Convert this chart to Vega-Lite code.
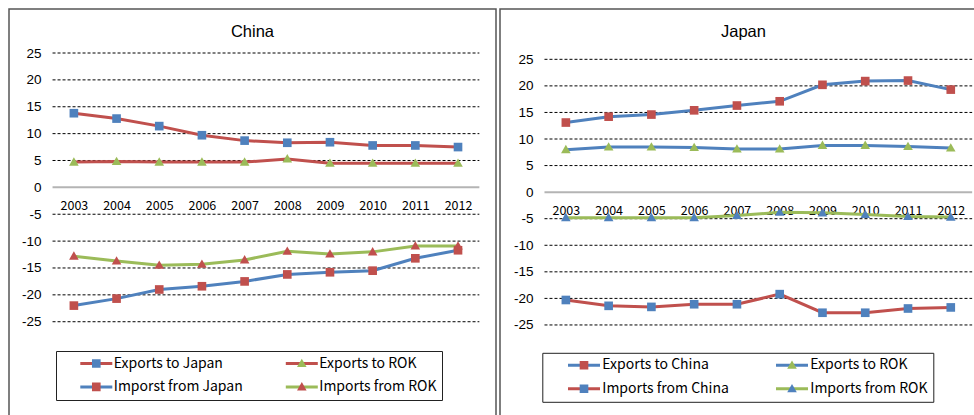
{
  "$schema": "https://vega.github.io/schema/vega-lite/v6.json",
  "padding": {"left": 8, "top": 8, "right": 0, "bottom": 0},
  "background": "white",
  "datasets": {
    "china": [
      {"year": 2003, "series": "Exports to Japan", "value": 13.8},
      {"year": 2004, "series": "Exports to Japan", "value": 12.8},
      {"year": 2005, "series": "Exports to Japan", "value": 11.4},
      {"year": 2006, "series": "Exports to Japan", "value": 9.7},
      {"year": 2007, "series": "Exports to Japan", "value": 8.7},
      {"year": 2008, "series": "Exports to Japan", "value": 8.3},
      {"year": 2009, "series": "Exports to Japan", "value": 8.4},
      {"year": 2010, "series": "Exports to Japan", "value": 7.8},
      {"year": 2011, "series": "Exports to Japan", "value": 7.8},
      {"year": 2012, "series": "Exports to Japan", "value": 7.5},
      {"year": 2003, "series": "Exports to ROK", "value": 4.7},
      {"year": 2004, "series": "Exports to ROK", "value": 4.8},
      {"year": 2005, "series": "Exports to ROK", "value": 4.7},
      {"year": 2006, "series": "Exports to ROK", "value": 4.7},
      {"year": 2007, "series": "Exports to ROK", "value": 4.7},
      {"year": 2008, "series": "Exports to ROK", "value": 5.3},
      {"year": 2009, "series": "Exports to ROK", "value": 4.5},
      {"year": 2010, "series": "Exports to ROK", "value": 4.5},
      {"year": 2011, "series": "Exports to ROK", "value": 4.5},
      {"year": 2012, "series": "Exports to ROK", "value": 4.5},
      {"year": 2003, "series": "Imporst from Japan", "value": -22.0},
      {"year": 2004, "series": "Imporst from Japan", "value": -20.7},
      {"year": 2005, "series": "Imporst from Japan", "value": -19.0},
      {"year": 2006, "series": "Imporst from Japan", "value": -18.4},
      {"year": 2007, "series": "Imporst from Japan", "value": -17.5},
      {"year": 2008, "series": "Imporst from Japan", "value": -16.2},
      {"year": 2009, "series": "Imporst from Japan", "value": -15.8},
      {"year": 2010, "series": "Imporst from Japan", "value": -15.5},
      {"year": 2011, "series": "Imporst from Japan", "value": -13.2},
      {"year": 2012, "series": "Imporst from Japan", "value": -11.7},
      {"year": 2003, "series": "Imports from ROK", "value": -12.8},
      {"year": 2004, "series": "Imports from ROK", "value": -13.7},
      {"year": 2005, "series": "Imports from ROK", "value": -14.5},
      {"year": 2006, "series": "Imports from ROK", "value": -14.3},
      {"year": 2007, "series": "Imports from ROK", "value": -13.5},
      {"year": 2008, "series": "Imports from ROK", "value": -11.9},
      {"year": 2009, "series": "Imports from ROK", "value": -12.4},
      {"year": 2010, "series": "Imports from ROK", "value": -12.0},
      {"year": 2011, "series": "Imports from ROK", "value": -10.9},
      {"year": 2012, "series": "Imports from ROK", "value": -10.9}
    ],
    "japan": [
      {"year": 2003, "series": "Exports to China", "value": 13.1},
      {"year": 2004, "series": "Exports to China", "value": 14.2},
      {"year": 2005, "series": "Exports to China", "value": 14.6},
      {"year": 2006, "series": "Exports to China", "value": 15.4},
      {"year": 2007, "series": "Exports to China", "value": 16.3},
      {"year": 2008, "series": "Exports to China", "value": 17.1},
      {"year": 2009, "series": "Exports to China", "value": 20.2},
      {"year": 2010, "series": "Exports to China", "value": 20.9},
      {"year": 2011, "series": "Exports to China", "value": 21.0},
      {"year": 2012, "series": "Exports to China", "value": 19.3},
      {"year": 2003, "series": "Exports to ROK", "value": 8.0},
      {"year": 2004, "series": "Exports to ROK", "value": 8.5},
      {"year": 2005, "series": "Exports to ROK", "value": 8.5},
      {"year": 2006, "series": "Exports to ROK", "value": 8.4},
      {"year": 2007, "series": "Exports to ROK", "value": 8.1},
      {"year": 2008, "series": "Exports to ROK", "value": 8.1},
      {"year": 2009, "series": "Exports to ROK", "value": 8.8},
      {"year": 2010, "series": "Exports to ROK", "value": 8.8},
      {"year": 2011, "series": "Exports to ROK", "value": 8.6},
      {"year": 2012, "series": "Exports to ROK", "value": 8.3},
      {"year": 2003, "series": "Imports from China", "value": -20.3},
      {"year": 2004, "series": "Imports from China", "value": -21.4},
      {"year": 2005, "series": "Imports from China", "value": -21.6},
      {"year": 2006, "series": "Imports from China", "value": -21.1},
      {"year": 2007, "series": "Imports from China", "value": -21.1},
      {"year": 2008, "series": "Imports from China", "value": -19.2},
      {"year": 2009, "series": "Imports from China", "value": -22.7},
      {"year": 2010, "series": "Imports from China", "value": -22.7},
      {"year": 2011, "series": "Imports from China", "value": -21.9},
      {"year": 2012, "series": "Imports from China", "value": -21.7},
      {"year": 2003, "series": "Imports from ROK", "value": -4.8},
      {"year": 2004, "series": "Imports from ROK", "value": -4.8},
      {"year": 2005, "series": "Imports from ROK", "value": -4.8},
      {"year": 2006, "series": "Imports from ROK", "value": -4.8},
      {"year": 2007, "series": "Imports from ROK", "value": -4.4},
      {"year": 2008, "series": "Imports from ROK", "value": -3.8},
      {"year": 2009, "series": "Imports from ROK", "value": -3.9},
      {"year": 2010, "series": "Imports from ROK", "value": -4.2},
      {"year": 2011, "series": "Imports from ROK", "value": -4.6},
      {"year": 2012, "series": "Imports from ROK", "value": -4.7}
    ],
    "grid": [
      {"v": -25}, {"v": -20}, {"v": -15}, {"v": -10}, {"v": -5},
      {"v": 5}, {"v": 10}, {"v": 15}, {"v": 20}, {"v": 25}
    ],
    "zero": [{"v": 0}]
  },
  "spacing": 2,
  "resolve": {
    "scale": {"x": "independent", "y": "independent", "stroke": "independent", "fill": "independent", "shape": "independent"},
    "legend": {"stroke": "independent", "fill": "independent", "shape": "independent"},
    "axis": {"x": "independent", "y": "independent"}
  },
  "hconcat": [
    {
      "width": 487,
      "height": 410,
      "title": {"text": "China", "offset": -39, "baseline": "middle", "anchor": "middle", "font": "Liberation Sans", "fontSize": 16.5, "fontWeight": "normal", "color": "#000"},
      "layer": [
        {
          "data": {"name": "grid"},
          "mark": {"type": "rule", "stroke": "#000", "strokeWidth": 1, "strokeDash": [3, 2]},
          "encoding": {
            "y": {"field": "v", "type": "quantitative", "scale": {"domain": [-43.1, 33.19], "nice": false, "zero": false},
              "axis": {"values": [-25, -20, -15, -10, -5, 0, 5, 10, 15, 20, 25], "offset": -32, "domain": false, "ticks": false, "grid": false, "labelPadding": 0, "labelFont": "Liberation Sans", "labelFontSize": 13.5, "labelColor": "#000", "labelExpr": "toString(datum.value)", "title": null}},
            "x": {"datum": 2002.5, "type": "quantitative", "scale": {"domain": [2001.48, 2012.89], "nice": false, "zero": false},
              "axis": {"values": [2003, 2004, 2005, 2006, 2007, 2008, 2009, 2010, 2011, 2012], "format": "d", "offset": -232, "domain": false, "ticks": false, "grid": false, "labelPadding": 18, "labelBaseline": "middle", "labelOverlap": false, "labelFont": "Noto Sans CJK TC", "labelFontSize": 12.5, "labelColor": "#000", "title": null}},
            "x2": {"datum": 2012.5}
          }
        },
        {
          "data": {"name": "zero"},
          "mark": {"type": "rule", "stroke": "#b4b4b4", "strokeWidth": 2},
          "encoding": {
            "y": {"field": "v", "type": "quantitative"},
            "x": {"datum": 2002.5, "type": "quantitative"},
            "x2": {"datum": 2012.5}
          }
        },
        {
          "data": {"name": "china"},
          "mark": {"type": "line", "strokeWidth": 3},
          "encoding": {
            "x": {"field": "year", "type": "quantitative"},
            "y": {"field": "value", "type": "quantitative"},
            "stroke": {"field": "series", "type": "nominal",
              "scale": {"domain": ["Exports to Japan", "Exports to ROK", "Imporst from Japan", "Imports from ROK"], "range": ["#C0504D", "#C0504D", "#4F81BD", "#9BBB59"]},
              "legend": {"orient": "none", "legendX": 47, "legendY": 342, "direction": "horizontal", "columns": 2, "gridAlign": "all", "title": null, "padding": 5, "symbolType": "stroke", "symbolSize": 1024, "symbolStrokeWidth": 3, "symbolOffset": 17.8, "labelOffset": 0, "columnPadding": 23.5, "rowPadding": 8.4, "clipHeight": 15, "labelFont": "Noto Sans CJK TC", "labelFontSize": 14, "labelColor": "#000", "strokeColor": "#222", "fillColor": "white"}}
          }
        },
        {
          "data": {"name": "china"},
          "mark": {"type": "point", "filled": true, "size": 1024, "opacity": 1},
          "encoding": {
            "x": {"field": "year", "type": "quantitative"},
            "y": {"field": "value", "type": "quantitative"},
            "fill": {"field": "series", "type": "nominal",
              "scale": {"range": ["#4F81BD", "#9BBB59", "#C0504D", "#C0504D"]},
              "legend": {"orient": "none", "legendX": 47, "legendY": 342, "direction": "horizontal", "columns": 2, "gridAlign": "all", "title": null, "padding": 5, "symbolSize": 1024, "symbolStrokeWidth": 3, "symbolStrokeColor": "transparent", "symbolOffset": 17.8, "labelOffset": 0, "columnPadding": 23.5, "rowPadding": 8.4, "clipHeight": 15, "labelFont": "Noto Sans CJK TC", "labelFontSize": 14, "labelOpacity": 0}},
            "shape": {"field": "series", "type": "nominal",
              "scale": {"range": ["M-0.27,-0.27H0.27V0.27H-0.27Z", "M0,-0.3L0.3,0.22L-0.3,0.22Z", "M-0.27,-0.27H0.27V0.27H-0.27Z", "M0,-0.3L0.3,0.22L-0.3,0.22Z"]},
              "legend": {"orient": "none", "legendX": 47, "legendY": 342, "direction": "horizontal", "columns": 2, "gridAlign": "all", "title": null, "padding": 5, "symbolSize": 1024, "symbolStrokeWidth": 3, "symbolStrokeColor": "transparent", "symbolOffset": 17.8, "labelOffset": 0, "columnPadding": 23.5, "rowPadding": 8.4, "clipHeight": 15, "labelFont": "Noto Sans CJK TC", "labelFontSize": 14, "labelOpacity": 0}}
          }
        }
      ]
    },
    {
      "width": 479,
      "height": 410,
      "title": {"text": "Japan", "offset": -39, "baseline": "middle", "anchor": "middle", "dx": 4, "font": "Liberation Sans", "fontSize": 16.5, "fontWeight": "normal", "color": "#000"},
      "layer": [
        {
          "data": {"name": "grid"},
          "mark": {"type": "rule", "stroke": "#000", "strokeWidth": 1, "strokeDash": [3, 2]},
          "encoding": {
            "y": {"field": "v", "type": "quantitative", "scale": {"domain": [-42.7, 34.47], "nice": false, "zero": false},
              "axis": {"values": [-25, -20, -15, -10, -5, 0, 5, 10, 15, 20, 25], "offset": -33, "domain": false, "ticks": false, "grid": false, "labelPadding": 0, "labelFont": "Liberation Sans", "labelFontSize": 13.5, "labelColor": "#000", "labelExpr": "toString(datum.value)", "title": null}},
            "x": {"datum": 2002.5, "type": "quantitative", "scale": {"domain": [2001.46, 2012.66], "nice": false, "zero": false},
              "axis": {"values": [2003, 2004, 2005, 2006, 2007, 2008, 2009, 2010, 2011, 2012], "format": "d", "offset": -226.5, "domain": false, "ticks": false, "grid": false, "labelPadding": 17.5, "labelBaseline": "middle", "labelOverlap": false, "labelFont": "Noto Sans CJK TC", "labelFontSize": 12.5, "labelColor": "#000", "title": null}},
            "x2": {"datum": 2012.5}
          }
        },
        {
          "data": {"name": "zero"},
          "mark": {"type": "rule", "stroke": "#b4b4b4", "strokeWidth": 2},
          "encoding": {
            "y": {"field": "v", "type": "quantitative"},
            "x": {"datum": 2002.5, "type": "quantitative"},
            "x2": {"datum": 2012.5}
          }
        },
        {
          "data": {"name": "japan"},
          "mark": {"type": "line", "strokeWidth": 3},
          "encoding": {
            "x": {"field": "year", "type": "quantitative"},
            "y": {"field": "value", "type": "quantitative"},
            "stroke": {"field": "series", "type": "nominal",
              "scale": {"domain": ["Exports to China", "Exports to ROK", "Imports from China", "Imports from ROK"], "range": ["#4F81BD", "#4F81BD", "#C0504D", "#9BBB59"]},
              "legend": {"orient": "none", "legendX": 42.3, "legendY": 343.8, "direction": "horizontal", "columns": 2, "gridAlign": "all", "title": null, "padding": 5, "symbolType": "stroke", "symbolSize": 1024, "symbolStrokeWidth": 3, "symbolOffset": 19.2, "labelOffset": 0.8, "columnPadding": 26, "rowPadding": 8.4, "clipHeight": 15, "labelFont": "Noto Sans CJK TC", "labelFontSize": 14, "labelColor": "#000", "strokeColor": "#222", "fillColor": "white"}}
          }
        },
        {
          "data": {"name": "japan"},
          "mark": {"type": "point", "filled": true, "size": 1024, "opacity": 1},
          "encoding": {
            "x": {"field": "year", "type": "quantitative"},
            "y": {"field": "value", "type": "quantitative"},
            "fill": {"field": "series", "type": "nominal",
              "scale": {"range": ["#C0504D", "#9BBB59", "#4F81BD", "#4F81BD"]},
              "legend": {"orient": "none", "legendX": 42.3, "legendY": 343.8, "direction": "horizontal", "columns": 2, "gridAlign": "all", "title": null, "padding": 5, "symbolSize": 1024, "symbolStrokeWidth": 3, "symbolStrokeColor": "transparent", "symbolOffset": 19.2, "labelOffset": 0.8, "columnPadding": 26, "rowPadding": 8.4, "clipHeight": 15, "labelFont": "Noto Sans CJK TC", "labelFontSize": 14, "labelOpacity": 0}},
            "shape": {"field": "series", "type": "nominal",
              "scale": {"range": ["M-0.27,-0.27H0.27V0.27H-0.27Z", "M0,-0.3L0.3,0.22L-0.3,0.22Z", "M-0.27,-0.27H0.27V0.27H-0.27Z", "M0,-0.3L0.3,0.22L-0.3,0.22Z"]},
              "legend": {"orient": "none", "legendX": 42.3, "legendY": 343.8, "direction": "horizontal", "columns": 2, "gridAlign": "all", "title": null, "padding": 5, "symbolSize": 1024, "symbolStrokeWidth": 3, "symbolStrokeColor": "transparent", "symbolOffset": 19.2, "labelOffset": 0.8, "columnPadding": 26, "rowPadding": 8.4, "clipHeight": 15, "labelFont": "Noto Sans CJK TC", "labelFontSize": 14, "labelOpacity": 0}}
          }
        }
      ]
    }
  ],
  "config": {
    "view": {"stroke": "#555", "strokeWidth": 1.5},
    "legend": {"symbolStrokeWidth": 3}
  }
}
